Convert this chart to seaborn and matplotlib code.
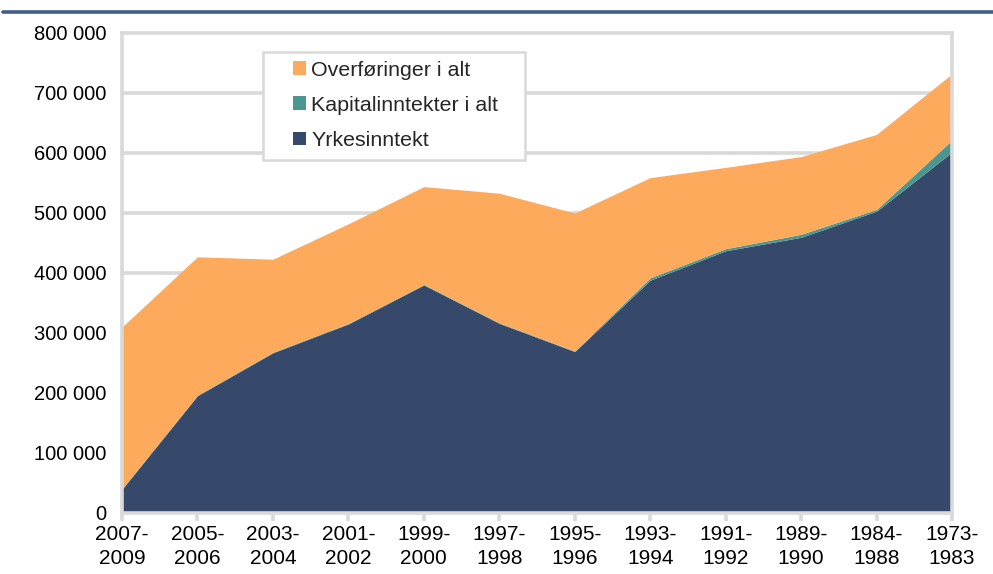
import matplotlib
matplotlib.use("Agg")
import matplotlib.pyplot as plt
import seaborn as sns
import numpy as np
from matplotlib.ticker import FuncFormatter
from matplotlib.lines import Line2D
from matplotlib.patches import Patch, Rectangle

periods = ["2007-\n2009", "2005-\n2006", "2003-\n2004", "2001-\n2002", "1999-\n2000",
           "1997-\n1998", "1995-\n1996", "1993-\n1994", "1991-\n1992", "1989-\n1990",
           "1984-\n1988", "1973-\n1983"]
yrkesinntekt = [39500, 195500, 267000, 315000, 380000, 316000, 269000, 388000, 437000, 459500, 503000, 601500]
kapitalinntekter = [1000, 1000, 1000, 1000, 1000, 1000, 1000, 4000, 3500, 5000, 3000, 20000]
totalt = [310000, 427000, 423000, 482000, 544000, 533000, 500000, 559000, 576000, 594000, 631000, 732000]
overforinger = [t - y - k for t, y, k in zip(totalt, yrkesinntekt, kapitalinntekter)]
series_names = ["Yrkesinntekt", "Kapitalinntekter i alt", "Overføringer i alt"]
colors = ["#36496B", "#4A9690", "#FDAA5D"]
yticks = [0, 100000, 200000, 300000, 400000, 500000, 600000, 700000, 800000]

sns.set_theme(style="white")
plt.rcParams['font.family'] = ['Liberation Sans', 'DejaVu Sans']

fig = plt.figure(figsize=(9.93, 5.74), dpi=100)
ax = fig.add_axes([122/993, 1-513/574, 830/993, 480/574])

x = np.arange(len(periods))
grid_c = "#D9D9D9"
for yt in yticks[1:-1]:
    ax.axhline(yt, color=grid_c, lw=2.6, zorder=0)

ax.stackplot(x, yrkesinntekt, kapitalinntekter, overforinger, colors=colors,
             zorder=2, linewidth=0)

ax.set_xlim(0, len(periods) - 1)
ax.set_ylim(0, 800000)
ax.set_yticks(yticks)
ax.yaxis.set_major_formatter(FuncFormatter(lambda v, p: f"{int(v):,}".replace(",", " ")))
ax.set_xticks(x)
ax.set_xticklabels(periods, linespacing=1.3)
ax.tick_params(axis="y", length=0, pad=11, labelsize=14.5, labelcolor="#000000")
ax.tick_params(axis="x", length=6, width=2.6, color=grid_c, pad=3, labelsize=15,
               labelcolor="#000000", direction="out", bottom=True)
for s in ax.spines.values():
    s.set_color(grid_c)
    s.set_linewidth(2.6)
    s.set_zorder(3)

# legend frame
ax.add_patch(Rectangle((0.1699, 0.7354), 0.4855 - 0.1699, 0.961 - 0.7354,
                       transform=ax.transAxes, facecolor="white", edgecolor=grid_c,
                       linewidth=1.8, zorder=4))

handles = [Patch(facecolor=colors[2], edgecolor="none", label=series_names[2]),
           Patch(facecolor=colors[1], edgecolor="none", label=series_names[1]),
           Patch(facecolor=colors[0], edgecolor="none", label=series_names[0])]
leg = ax.legend(handles=handles, loc="upper left", bbox_to_anchor=(0.206, 0.942),
                fontsize=15.4, handlelength=0.61, handleheight=0.61, handletextpad=0.25,
                labelspacing=0.75, borderpad=0, borderaxespad=0, frameon=False)
leg.set_zorder(5)

fig.add_artist(Line2D([3/993, 1.0], [1-12/574, 1-12/574], color="#3F5D8C", lw=2.6,
                      transform=fig.transFigure))

fig.savefig("out.png", dpi=100)
